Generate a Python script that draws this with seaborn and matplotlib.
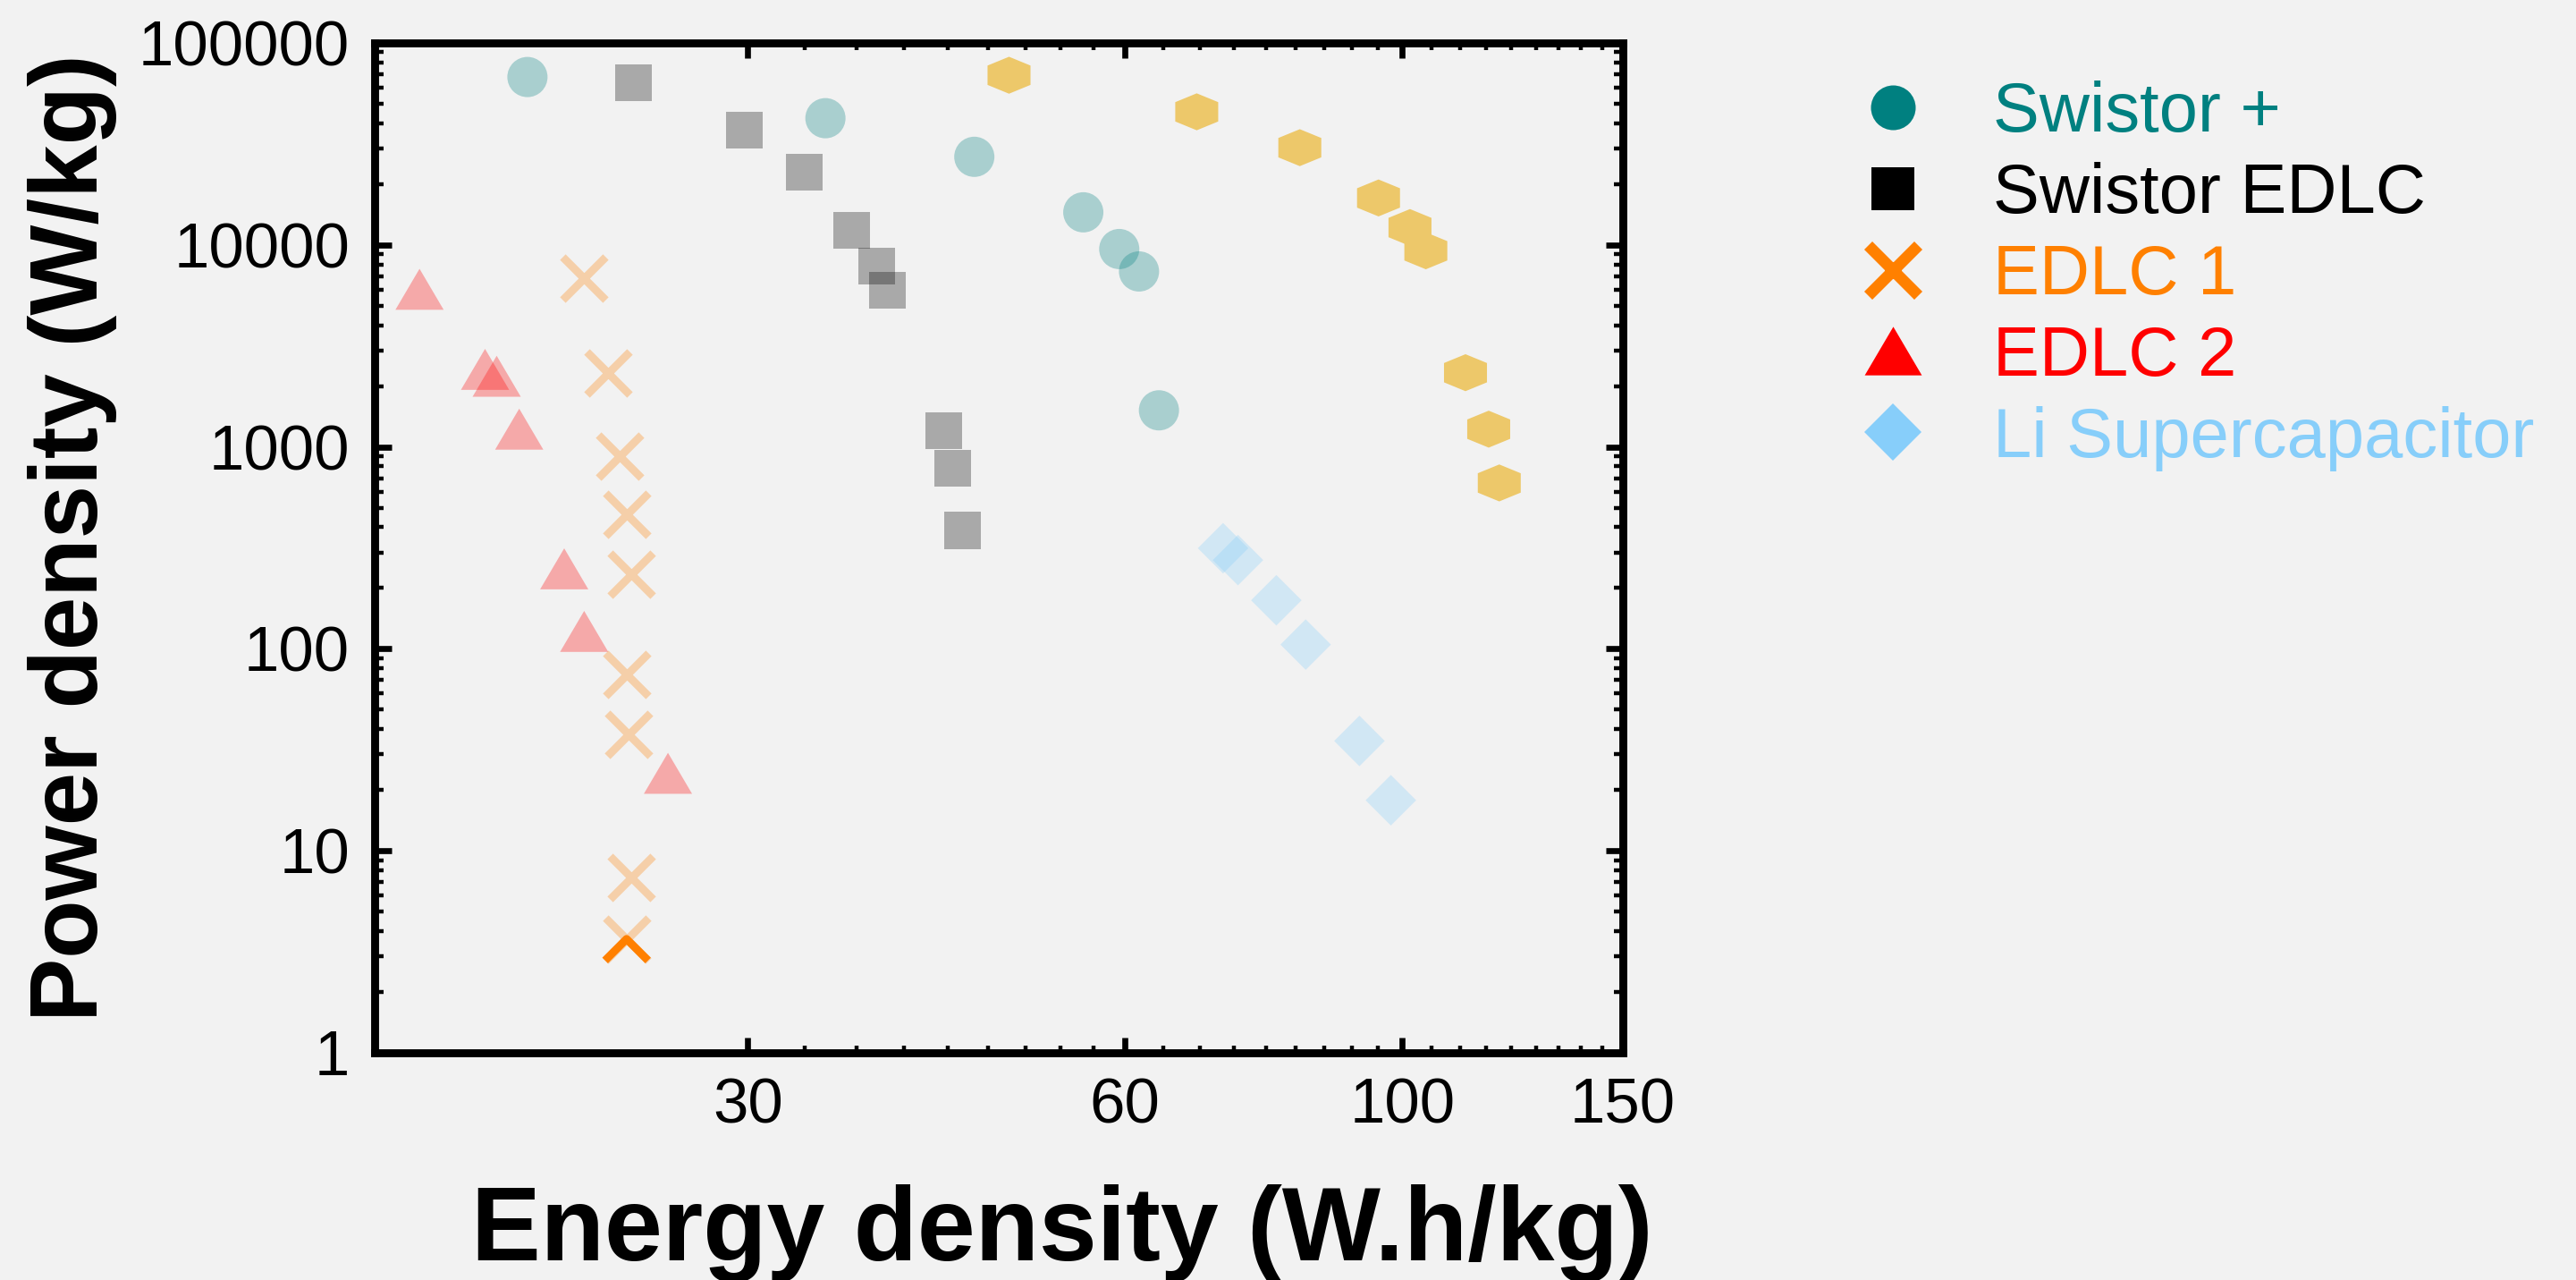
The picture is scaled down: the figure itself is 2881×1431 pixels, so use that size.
import numpy as np
import matplotlib
matplotlib.use("Agg")
import matplotlib.pyplot as plt
from matplotlib.lines import Line2D
from matplotlib.markers import MarkerStyle
from matplotlib.path import Path
from matplotlib.ticker import FixedLocator, LogLocator, NullFormatter
import seaborn as sns

# ---------------- data (energy density W.h/kg, power density W/kg) -------------
swistor_plus_x = [20.0, 34.6, 45.5, 55.6, 59.4, 61.6, 63.9]
swistor_plus_y = [67800, 42400, 27300, 14500, 9540, 7390, 1517]

swistor_edlc_x = [24.3, 29.8, 33.3, 36.3, 38.0, 38.8, 43.0, 43.7, 44.5]
swistor_edlc_y = [63800, 37100, 23000, 11800, 7860, 5965, 1199, 781, 386]

edlc1_x = [22.2, 23.2, 23.7, 24.0, 24.2, 24.0, 24.1, 24.2, 24.0]
edlc1_y = [6810, 2330, 901, 464, 234, 74.5, 37.9, 7.41, 3.66]

edlc2_x = [16.4, 18.5, 18.9, 19.7, 21.4, 22.2, 25.9]
edlc2_y = [6030, 2420, 2237, 1224, 249, 122, 24.2]

li_sc_x = [71.9, 73.9, 79.3, 83.7, 92.4, 97.9]
li_sc_y = [315, 275, 174, 105, 35, 17.8]

hex_x = [48.5, 68.5, 82.8, 95.7, 101.4, 104.4, 112.3, 117.2, 119.5]
hex_y = [69200, 45600, 30300, 17080, 12190, 9350, 2330, 1224, 663]

legend_labels = ["Swistor +", "Swistor EDLC", "EDLC 1", "EDLC 2", "Li Supercapacitor"]
x_tick_values = [30, 60, 100, 150]
x_tick_labels = ["30", "60", "100", "150"]
y_tick_values = [1, 10, 100, 1000, 10000, 100000]
y_tick_labels = ["1", "10", "100", "1000", "10000", "100000"]

# ---------------- style ----------------
TEAL = "#008080"
BLACK = "#000000"
ORANGE = "#FF8000"
RED = "#FF0000"
LBLUE = "#87CEFA"
GOLD = "#EDC86A"
BG = "#F2F2F2"
FADE = 0.3

sns.set_theme(style="ticks")
plt.rcParams["font.family"] = ["Liberation Sans", "DejaVu Sans"]
plt.rcParams["figure.facecolor"] = BG
plt.rcParams["axes.facecolor"] = BG
plt.rcParams["savefig.facecolor"] = BG

DPI = 200
fig = plt.figure(figsize=(2881 / DPI, 1431 / DPI), dpi=DPI)
ax = fig.add_axes([419 / 2881, 1 - 1177 / 1431, (1815 - 419) / 2881, (1177 - 48) / 1431])

tri_marker = MarkerStyle([(-1, -0.85), (1, -0.85), (0, 0.85)])
hex_marker = MarkerStyle([(0, 0.86), (1, 0.45), (1, -0.45), (0, -0.86), (-1, -0.45), (-1, 0.45)])
half_x_marker = MarkerStyle(Path([(-1, -1), (0, 0), (1, -1)],
                                 [Path.MOVETO, Path.LINETO, Path.LINETO]),
                            fillstyle="none")

sns.scatterplot(x=hex_x, y=hex_y, marker=hex_marker, s=299, color=GOLD,
                edgecolor="none", linewidth=0, ax=ax, zorder=3)
sns.scatterplot(x=swistor_plus_x, y=swistor_plus_y, marker="o", s=262, color=TEAL,
                alpha=FADE, edgecolor="none", linewidth=0, ax=ax, zorder=3)
sns.scatterplot(x=swistor_edlc_x, y=swistor_edlc_y, marker="s", s=219, color=BLACK,
                alpha=FADE, edgecolor="none", linewidth=0, ax=ax, zorder=3)
sns.scatterplot(x=li_sc_x, y=li_sc_y, marker="D", s=207, color=LBLUE,
                alpha=FADE, edgecolor="none", linewidth=0, ax=ax, zorder=3)
sns.scatterplot(x=edlc2_x, y=edlc2_y, marker=tri_marker, s=377, color=RED,
                alpha=FADE, edgecolor="none", linewidth=0, ax=ax, zorder=3)
sns.scatterplot(x=edlc1_x, y=edlc1_y, marker="x", s=299, color=ORANGE,
                alpha=FADE, linewidth=3.2, ax=ax, zorder=3)
# lowest EDLC 1 point: lower half drawn fully opaque, as in the original
sns.scatterplot(x=edlc1_x[-1:], y=edlc1_y[-1:], marker=half_x_marker, s=299,
                color=ORANGE, linewidth=3.2, ax=ax, zorder=4)

ax.set_xscale("log")
ax.set_yscale("log")
ax.set_xlim(15.1, 150)
ax.set_ylim(1, 100000)

# x ticks: majors at labels, 8 evenly spaced minors between each pair
ax.xaxis.set_major_locator(FixedLocator(x_tick_values))
ax.set_xticklabels(x_tick_labels)
minors = []
for a, b in zip(x_tick_values[:-1], x_tick_values[1:]):
    minors.extend(np.linspace(a, b, 10)[1:-1])
ax.xaxis.set_minor_locator(FixedLocator(minors))
ax.xaxis.set_minor_formatter(NullFormatter())

ax.yaxis.set_major_locator(FixedLocator(y_tick_values))
ax.set_yticklabels(y_tick_labels)
ax.yaxis.set_minor_locator(LogLocator(base=10, subs=np.arange(2, 10)))
ax.yaxis.set_minor_formatter(NullFormatter())

for s in ax.spines.values():
    s.set_visible(True)
    s.set_linewidth(3.2)
    s.set_color("black")

ax.tick_params(axis="both", which="both", direction="in", top=True, right=True,
               color="black")
ax.tick_params(axis="y", which="major", length=6.8, width=2.4, pad=10, labelsize=25.5)
ax.tick_params(axis="y", which="minor", length=3.6, width=1.6)
ax.tick_params(axis="x", which="major", length=6.0, width=2.4, pad=10, labelsize=25.5)
ax.tick_params(axis="x", which="minor", length=3.0, width=1.6)
for lab in ax.get_xticklabels() + ax.get_yticklabels():
    lab.set_color("black")

ax.set_xlabel("Energy density (W.h/kg)", fontsize=42, fontweight="bold", color="black")
ax.set_ylabel("Power density (W/kg)", fontsize=38.5, fontweight="bold", color="black")
ax.xaxis.label.set_va("baseline")
ax.xaxis.set_label_coords(0.551, -0.2055)
ax.yaxis.label.set_rotation_mode("anchor")
ax.yaxis.label.set_va("baseline")
ax.yaxis.label.set_ha("center")
ax.yaxis.set_label_coords(-0.222, 0.51)

# legend
leg_tri = MarkerStyle([(-1, -0.85), (1, -0.85), (0, 0.85)])
handles = [
    Line2D([], [], linestyle="none", marker="o", markersize=18, color=TEAL, markeredgewidth=0),
    Line2D([], [], linestyle="none", marker="s", markersize=17, color=BLACK, markeredgewidth=0),
    Line2D([], [], linestyle="none", marker="x", markersize=20.5, color=ORANGE, markeredgewidth=4.6),
    Line2D([], [], linestyle="none", marker=leg_tri, markersize=23, color=RED, markeredgewidth=0),
    Line2D([], [], linestyle="none", marker="D", markersize=16.5, color=LBLUE, markeredgewidth=0),
]
leg = fig.legend(handles, legend_labels, loc="upper left",
                 bbox_to_anchor=(2078 / 2881, 1 - 90 / 1431),
                 frameon=False, fontsize=28, handlelength=1.0, handletextpad=0.94,
                 labelspacing=0.23, borderpad=0, borderaxespad=0)
for txt, c in zip(leg.get_texts(), [TEAL, BLACK, ORANGE, RED, LBLUE]):
    txt.set_color(c)

fig.savefig("out.png", dpi=DPI, facecolor=BG)
